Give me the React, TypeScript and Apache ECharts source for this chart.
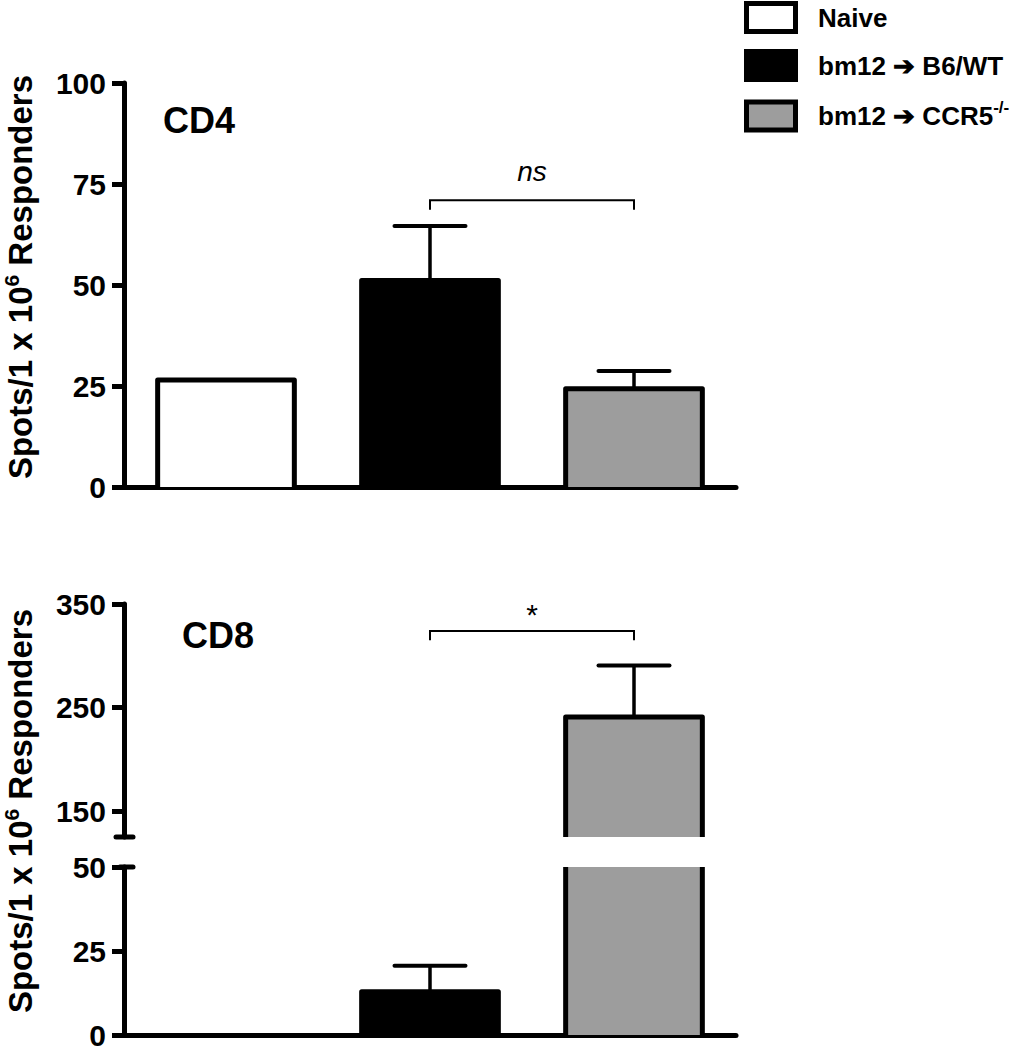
import React, { useEffect, useRef } from "react";
import * as echarts from "echarts";

const FONT = "'Liberation Sans', Arial, Helvetica, sans-serif";

// Groups (legend / categories)
const categories = ["Naive", "bm12 ➔ B6/WT", "bm12 ➔ CCR5-/-"];
const legendLabels = ["Naive", "bm12 ➔ B6/WT", "bm12 ➔ CCR5{sup|-/-}"];
const groupColors = ["#ffffff", "#000000", "#9d9d9d"];

// CD4 panel
const cd4Mean = [26.5, 51.1, 24.3];
const cd4Err = [0, 13.5, 4.4];
const cd4Ticks = [0, 25, 50, 75, 100];

// CD8 panel (broken axis)
const cd8Mean = [0, 12.9, 241];
const cd8Err = [0, 7.7, 49.6];
const cd8UpperTicks = [150, 250, 350];
const cd8LowerTicks = [0, 25, 50];

// Significance brackets: [fromCat, toCat, level, tickEnd]
const cd4Bracket = [1, 2, 71, 68.6];
const cd4BracketLabel = "ns";
const cd8Bracket = [1, 2, 324, 315];
const cd8BracketLabel = "*";

const BAR_RATIO = 0.67;

function barRender(params: any, api: any) {
  const cat = api.value(0);
  const val = api.value(1);
  if (!(val > 0)) return null;
  const cs = params.coordSys;
  const base = api.coord([cat, 0]);
  const top = api.coord([cat, val]);
  const band = api.size([1, 0])[0];
  const w = band * BAR_RATIO;
  const x0 = base[0] - w / 2;
  let yTop = top[1];
  let yBot = base[1];
  const clippedTop = yTop < cs.y;
  if (clippedTop) yTop = cs.y;
  if (yBot > cs.y + cs.height) yBot = cs.y + cs.height;
  if (yBot <= yTop) return null;
  const color = groupColors[cat];
  const children: any[] = [
    { type: "rect", shape: { x: x0, y: yTop, width: w, height: yBot - yTop }, style: { fill: color } },
  ];
  if (clippedTop) {
    children.push({ type: "line", shape: { x1: x0, y1: yTop, x2: x0, y2: yBot }, style: { stroke: "#000", lineWidth: 5 } });
    children.push({ type: "line", shape: { x1: x0 + w, y1: yTop, x2: x0 + w, y2: yBot }, style: { stroke: "#000", lineWidth: 5 } });
  } else {
    children.push({
      type: "polyline",
      shape: { points: [[x0, yBot], [x0, yTop], [x0 + w, yTop], [x0 + w, yBot]] },
      style: { stroke: "#000", lineWidth: 5, fill: "none", lineJoin: "round" },
    });
  }
  return { type: "group", children };
}

function errRender(params: any, api: any) {
  const cat = api.value(0);
  const val = api.value(1);
  const err = api.value(2);
  if (!(err > 0)) return null;
  const cs = params.coordSys;
  const p0 = api.coord([cat, val]);
  const p1 = api.coord([cat, val + err]);
  if (p0[1] < cs.y || p0[1] > cs.y + cs.height) return null;
  const capW = 71;
  return {
    type: "group",
    children: [
      { type: "line", shape: { x1: p0[0], y1: p0[1], x2: p1[0], y2: p1[1] }, style: { stroke: "#000", lineWidth: 3.5 } },
      {
        type: "line",
        shape: { x1: p1[0] - capW / 2, y1: p1[1], x2: p1[0] + capW / 2, y2: p1[1] },
        style: { stroke: "#000", lineWidth: 4, lineCap: "round" },
      },
    ],
  };
}

function bracketRender(label: string, fontStyle: string, fontSize: number, offset: number) {
  return (params: any, api: any) => {
    const a = api.coord([api.value(0), api.value(2)]);
    const b = api.coord([api.value(1), api.value(2)]);
    const t = api.coord([api.value(0), api.value(3)]);
    return {
      type: "group",
      children: [
        {
          type: "polyline",
          shape: { points: [[a[0], t[1]], [a[0], a[1]], [b[0], b[1]], [b[0], t[1]]] },
          style: { stroke: "#000", lineWidth: 2, fill: "none" },
        },
        {
          type: "text",
          style: {
            text: label,
            x: (a[0] + b[0]) / 2,
            y: a[1] - offset,
            fill: "#000",
            fontSize,
            fontStyle,
            fontFamily: FONT,
            align: "center",
            verticalAlign: "middle",
          },
        },
      ],
    };
  };
}

function yAxisCfg(gridIndex: number, min: number, max: number, ticks: number[]) {
  return {
    type: "value",
    gridIndex,
    min,
    max,
    interval: 25,
    axisLine: { show: true, lineStyle: { color: "#000", width: 5 } },
    axisTick: { show: true, inside: false, length: 12, lineStyle: { color: "#000", width: 5 }, customValues: ticks },
    axisLabel: {
      customValues: ticks,
      color: "#000",
      fontSize: 30,
      fontWeight: "bold",
      fontFamily: FONT,
      margin: 18,
    },
    splitLine: { show: false },
  };
}

function xAxisCfg(gridIndex: number, showLine: boolean) {
  return {
    type: "category",
    gridIndex,
    data: categories,
    axisLine: { show: showLine, onZero: false, lineStyle: { color: "#000", width: 5 } },
    axisTick: { show: false },
    axisLabel: { show: false },
    splitLine: { show: false },
  };
}

const toData = (means: number[], errs: number[]) => means.map((m, i) => [i, m, errs[i]]);

const GRID_LEFT = 124;
const GRID_W = 612;
const G0 = { top: 83, bottom: 487 };
const G1 = { top: 604, bottom: 837 };
const G2 = { top: 867, bottom: 1035 };

export default function App() {
  const ref = useRef<HTMLDivElement>(null);
  useEffect(() => {
    if (!ref.current) return;
    const chart = echarts.init(ref.current, null, { renderer: "svg" });
    const cd4Data = toData(cd4Mean, cd4Err);
    const cd8Data = toData(cd8Mean, cd8Err);
    const supRich = {
      sup: { fontSize: 21, fontWeight: "bold", fontFamily: FONT, fill: "#000", verticalAlign: "top", lineHeight: 38 },
    };
    const legendChildren: any[] = [];
    const rowY = [17.5, 65.5, 116];
    legendLabels.forEach((lab, i) => {
      legendChildren.push({
        type: "rect",
        shape: { x: 746.5, y: rowY[i] - 14, width: 49, height: 28 },
        style: { fill: groupColors[i], stroke: "#000", lineWidth: 5 },
      });
      legendChildren.push({
        type: "text",
        x: 818,
        y: rowY[i],
        style: {
          text: lab,
          fill: "#000",
          fontSize: 26,
          fontWeight: "bold",
          fontFamily: FONT,
          align: "left",
          verticalAlign: "middle",
          lineHeight: 34,
          rich: {
            sup: { fontSize: 17, fontWeight: "bold", fontFamily: FONT, fill: "#000", verticalAlign: "top", lineHeight: 30 },
          },
        },
      });
    });
    const yTitle = (y: number) => ({
      type: "text",
      x: 20,
      y,
      rotation: Math.PI / 2,
      style: {
        text: "Spots/1 x 10{sup|6} Responders",
        fill: "#000",
        fontSize: 33,
        fontWeight: "bold",
        fontFamily: FONT,
        align: "center",
        verticalAlign: "middle",
        lineHeight: 38,
        rich: supRich,
      },
    });
    const panelLabel = (text: string, x: number, y: number) => ({
      type: "text",
      x,
      y,
      style: { text, fill: "#000", fontSize: 36, fontWeight: "bold", fontFamily: FONT, align: "left", verticalAlign: "middle" },
    });
    const option: any = {
      animation: false,
      backgroundColor: "#ffffff",
      grid: [
        { left: GRID_LEFT, width: GRID_W, top: G0.top, height: G0.bottom - G0.top },
        { left: GRID_LEFT, width: GRID_W, top: G1.top, height: G1.bottom - G1.top },
        { left: GRID_LEFT, width: GRID_W, top: G2.top, height: G2.bottom - G2.top },
      ],
      xAxis: [xAxisCfg(0, true), xAxisCfg(1, false), xAxisCfg(2, true)],
      yAxis: [
        yAxisCfg(0, 0, 100, cd4Ticks),
        yAxisCfg(1, 125, 350, cd8UpperTicks),
        yAxisCfg(2, 0, 50, cd8LowerTicks),
      ],
      series: [
        { type: "custom", name: "CD4", xAxisIndex: 0, yAxisIndex: 0, data: cd4Data, renderItem: barRender, encode: { x: 0, y: 1 }, z: 2 },
        { type: "custom", name: "CD4 err", xAxisIndex: 0, yAxisIndex: 0, data: cd4Data, renderItem: errRender, encode: { x: 0, y: 1 }, z: 1 },
        { type: "custom", name: "CD8 upper", xAxisIndex: 1, yAxisIndex: 1, data: cd8Data, renderItem: barRender, encode: { x: 0, y: 1 }, z: 2 },
        { type: "custom", name: "CD8 upper err", xAxisIndex: 1, yAxisIndex: 1, data: cd8Data, renderItem: errRender, encode: { x: 0, y: 1 }, z: 1 },
        { type: "custom", name: "CD8 lower", xAxisIndex: 2, yAxisIndex: 2, data: cd8Data, renderItem: barRender, encode: { x: 0, y: 1 }, z: 2 },
        { type: "custom", name: "CD8 lower err", xAxisIndex: 2, yAxisIndex: 2, data: cd8Data, renderItem: errRender, encode: { x: 0, y: 1 }, z: 1 },
        {
          type: "custom", name: "CD4 sig", xAxisIndex: 0, yAxisIndex: 0, data: [cd4Bracket],
          renderItem: bracketRender(cd4BracketLabel, "italic", 28, 29), encode: { x: 0, y: 2 }, z: 3,
        },
        {
          type: "custom", name: "CD8 sig", xAxisIndex: 1, yAxisIndex: 1, data: [cd8Bracket],
          renderItem: bracketRender(cd8BracketLabel, "normal", 30, 16), encode: { x: 0, y: 2 }, z: 3,
        },
      ],
      graphic: [
        ...legendChildren,
        yTitle(277),
        yTitle(811),
        panelLabel("CD4", 163, 120),
        panelLabel("CD8", 182, 635),
        // axis break caps
        { type: "line", shape: { x1: 116, y1: G1.bottom, x2: 133, y2: G1.bottom }, style: { stroke: "#000", lineWidth: 5, lineCap: "round" } },
        { type: "line", shape: { x1: 120, y1: G2.top, x2: 133, y2: G2.top }, style: { stroke: "#000", lineWidth: 5, lineCap: "round" } },
      ],
    };
    chart.setOption(option);
    return () => chart.dispose();
  }, []);
  return <div ref={ref} style={{ position: "fixed", left: 0, top: 0, width: 1029, height: 1050 }} />;
}
